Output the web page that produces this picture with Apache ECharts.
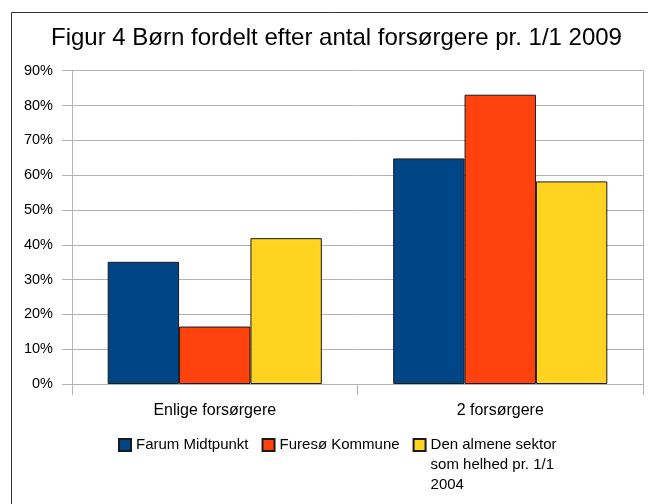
<!DOCTYPE html>
<html>
<head>
<meta charset="utf-8">
<script src="https://cdn.jsdelivr.net/npm/echarts@6/dist/echarts.min.js"></script>
<style>
  html, body { margin: 0; padding: 0; background: #fff; }
  #chart { width: 648px; height: 504px; }
</style>
</head>
<body>
<div id="chart"></div>
<script>
// Data
var categories = ["Enlige forsørgere", "2 forsørgere"];
var seriesNames = [
  "Farum Midtpunkt",
  "Furesø Kommune",
  "Den almene sektor\nsom helhed pr. 1/1\n2004"
];
var farumValues = [35.1, 64.8];
var furesoValues = [16.5, 83.1];
var almeneValues = [41.9, 58.2];
var yTicks = { min: 0, max: 90, interval: 10 };

var colors = ["#004586", "#ff420e", "#ffd320"];
var font = "Liberation Sans, Arial, sans-serif";

var chart = echarts.init(document.getElementById("chart"));

function barSeries(name, values, color) {
  return {
    name: name,
    type: "bar",
    data: values,
    barCategoryGap: "25%",
    barGap: "0%",
    itemStyle: { color: color, borderColor: "#1a1a1a", borderWidth: 1 }
  };
}

var option = {
  animation: false,
  textStyle: { fontFamily: font },
  title: {
    text: "Figur 4 Børn fordelt efter antal forsørgere pr. 1/1 2009",
    left: 46,
    top: 21,
    textStyle: { fontFamily: font, fontSize: 24, fontWeight: "normal", color: "#000" }
  },
  graphic: [
    {
      type: "rect",
      shape: { x: 11.5, y: 12.5, width: 700, height: 600 },
      style: { fill: "none", stroke: "#333", lineWidth: 1 },
      silent: true
    }
  ],
  legend: {
    left: 113,
    top: 390,
    icon: "rect",
    itemWidth: 12,
    itemHeight: 12,
    itemGap: 13,
    textStyle: { fontFamily: font, fontSize: 15, color: "#000", lineHeight: 20 },
    // leading blank lines keep the icon level with the first line of a wrapped name
    formatter: function (name) {
      return name.indexOf("\n") >= 0 ? "\n\n" + name : name;
    },
    data: seriesNames
  },
  grid: { left: 72, right: 5, top: 70.7, bottom: 120 },
  xAxis: {
    type: "category",
    data: categories,
    axisLine: { show: true, lineStyle: { color: "#b3b3b3" } },
    axisTick: { show: true, length: 11, lineStyle: { color: "#b3b3b3" } },
    axisLabel: { margin: 19, fontSize: 16, color: "#000", fontFamily: font }
  },
  yAxis: [
    {
      type: "value",
      min: yTicks.min,
      max: yTicks.max,
      interval: yTicks.interval,
      axisLine: { show: true, lineStyle: { color: "#b3b3b3" } },
      axisTick: { show: true, length: 10, lineStyle: { color: "#b3b3b3" } },
      axisLabel: { margin: 19, fontSize: 14.5, color: "#000", fontFamily: font, formatter: "{value}%" },
      splitLine: { show: true, lineStyle: { color: "#b3b3b3" } }
    },
    {
      type: "value",
      position: "right",
      min: yTicks.min,
      max: yTicks.max,
      interval: yTicks.interval,
      axisLine: { show: true, lineStyle: { color: "#b3b3b3" } },
      axisTick: { show: false },
      axisLabel: { show: false },
      splitLine: { show: false }
    }
  ],
  series: [
    barSeries(seriesNames[0], farumValues, colors[0]),
    barSeries(seriesNames[1], furesoValues, colors[1]),
    barSeries(seriesNames[2], almeneValues, colors[2])
  ]
};

chart.setOption(option);
</script>
</body>
</html>
